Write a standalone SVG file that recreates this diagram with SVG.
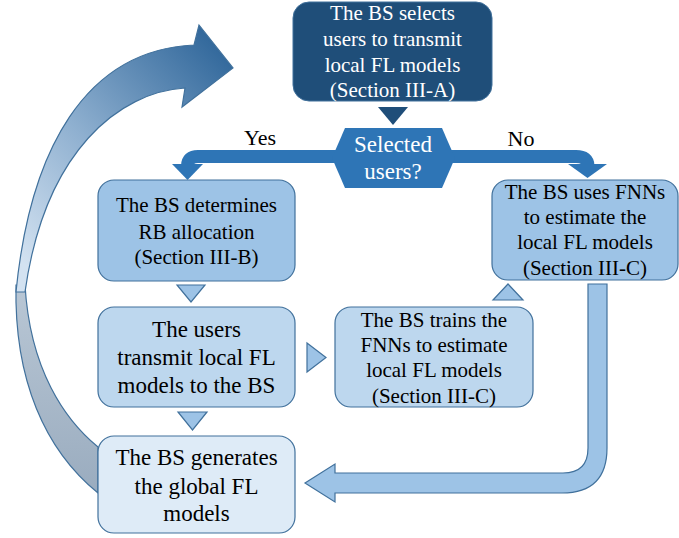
<svg xmlns="http://www.w3.org/2000/svg" width="679" height="538" viewBox="0 0 679 538">
<style>
  .t { font-family: "Liberation Serif", "Times New Roman", serif; text-anchor: middle; fill: #000; }
  .w { fill: #fff; }
  .edge { stroke: #41719c; stroke-width: 1.2; }
  .mid { fill: #9dc3e6; }
  .light { fill: #bdd7ee; }
  .pale { fill: #deebf7; }
  .dark { fill: #1f4e79; }
  .blue { fill: #2e75b6; }
</style>
<defs>
  <linearGradient id="gUp" gradientUnits="userSpaceOnUse" x1="20" y1="260" x2="230" y2="60">
    <stop offset="0" stop-color="#d3e2f1"/>
    <stop offset="0.45" stop-color="#8fb0d0"/>
    <stop offset="1" stop-color="#33699c"/>
  </linearGradient>
  <linearGradient id="gLow" gradientUnits="userSpaceOnUse" x1="0" y1="285" x2="0" y2="493">
    <stop offset="0" stop-color="#b9c7d5"/>
    <stop offset="1" stop-color="#9aacbf"/>
  </linearGradient>
</defs>

<g id="loop-arrow">
  <path d="M16,285 C14,380 45,450 98,493 L98,447 C65,420 30,370 25,285 Z" fill="url(#gLow)" class="edge"/>
  <path d="M194,45 L199,25 L233,68 L182,107 L185,88 C120,92 45,150 25,292 L16,292 C30,150 85,50 194,45 Z" fill="url(#gUp)" class="edge"/>
</g>

<g id="connectors">
  <path d="M338,156.5 H198 Q187.5,156.5 187.5,166" fill="none" stroke="#2e75b6" stroke-width="13"/>
  <polygon points="172,164 203,164 187.5,180" class="blue"/>
  <path d="M448,156.5 H576 Q588,156.5 588,166" fill="none" stroke="#2e75b6" stroke-width="13"/>
  <polygon points="568,164 607,164 587.5,178" class="blue"/>
  <polygon points="378,107 408,107 393,125" class="dark"/>
  <polygon points="177,285 205,285 191,302" class="mid edge"/>
  <polygon points="178,412 207,412 192.5,430" class="mid edge"/>
  <polygon points="307,343 326,357.5 307,372" class="mid edge"/>
  <polygon points="493,300 523,300 508,284" class="mid edge"/>
  <path d="M588,284 V448 Q588,473 563,473 H335 V464 L305,483 L335,502 V493 H562 Q607,493 607,448 V284 Z" class="mid edge"/>
  <text class="t" x="260" y="145" font-size="22">Yes</text>
  <text class="t" x="521" y="146" font-size="22">No</text>
</g>

<g id="n-select">
  <rect x="293" y="2" width="199" height="99" rx="16" class="dark" stroke="#41719c" stroke-width="1"/>
  <text class="t w" font-size="21"><tspan x="392.5" y="20">The BS selects</tspan><tspan x="392.5" y="46">users to transmit</tspan><tspan x="392.5" y="72">local FL models</tspan><tspan x="392.5" y="97">(Section III-A)</tspan></text>
</g>

<g id="n-decision">
  <polygon points="332,158 345,128 442,128 455,158 442,188 345,188" class="blue"/>
  <text class="t w" font-size="23"><tspan x="393" y="152">Selected</tspan><tspan x="393" y="179">users?</tspan></text>
</g>

<g id="n-rb">
  <rect x="98" y="180" width="197" height="101" rx="16" class="mid edge"/>
  <text class="t" font-size="21"><tspan x="196.5" y="212">The BS determines</tspan><tspan x="196.5" y="239">RB allocation</tspan><tspan x="196.5" y="264">(Section III-B)</tspan></text>
</g>

<g id="n-fnn-use">
  <rect x="492" y="180" width="186" height="100" rx="16" class="mid edge"/>
  <text class="t" font-size="21"><tspan x="585" y="199">The BS uses FNNs</tspan><tspan x="585" y="224">to estimate the</tspan><tspan x="585" y="249">local FL models</tspan><tspan x="585" y="275">(Section III-C)</tspan></text>
</g>

<g id="n-transmit">
  <rect x="98" y="307" width="197" height="100" rx="16" class="light edge"/>
  <text class="t" font-size="23"><tspan x="196.5" y="337">The users</tspan><tspan x="196.5" y="365">transmit local FL</tspan><tspan x="196.5" y="393">models to the BS</tspan></text>
</g>

<g id="n-train">
  <rect x="335" y="307" width="198" height="100" rx="16" class="light edge"/>
  <text class="t" font-size="21"><tspan x="434" y="327">The BS trains the</tspan><tspan x="434" y="352">FNNs to estimate</tspan><tspan x="434" y="377">local FL models</tspan><tspan x="434" y="403">(Section III-C)</tspan></text>
</g>

<g id="n-global">
  <rect x="98" y="436" width="197" height="97" rx="16" class="pale edge"/>
  <text class="t" font-size="23"><tspan x="196.5" y="465">The BS generates</tspan><tspan x="196.5" y="494">the global FL</tspan><tspan x="196.5" y="521">models</tspan></text>
</g>
</svg>
